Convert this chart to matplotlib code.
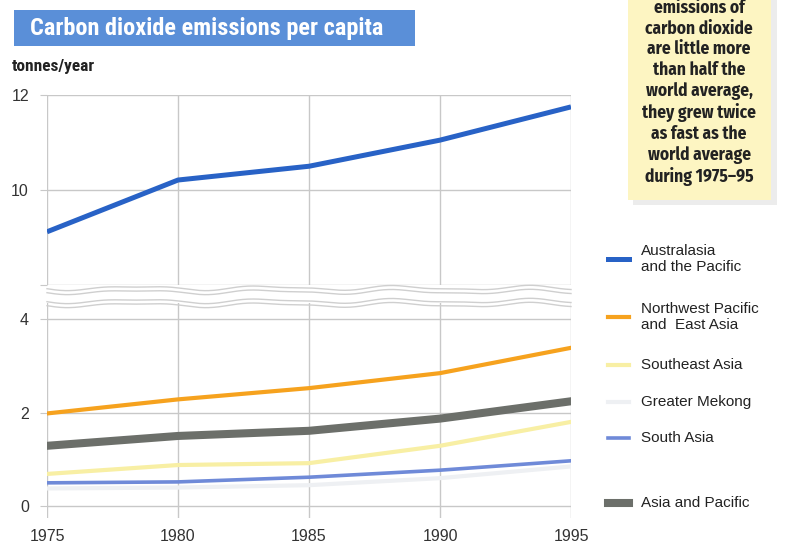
import numpy as np
import matplotlib
matplotlib.use("Agg")
import matplotlib.pyplot as plt
from matplotlib.patches import Rectangle
from matplotlib.lines import Line2D

plt.rcParams['font.family'] = ['Liberation Sans', 'DejaVu Sans']
NARROW = ['Roboto Condensed', 'Archivo Narrow', 'Liberation Sans', 'DejaVu Sans']
NOTE_FONT = ['Fira Sans Condensed', 'Roboto Condensed', 'Liberation Sans', 'DejaVu Sans']

years = [1975, 1980, 1985, 1990, 1995]
australasia = [9.12, 10.21, 10.50, 11.05, 11.75]
nw_pacific = [1.98, 2.28, 2.52, 2.84, 3.38]
southeast_asia = [0.69, 0.88, 0.92, 1.29, 1.80]
greater_mekong = [0.38, 0.40, 0.45, 0.60, 0.85]
south_asia = [0.50, 0.52, 0.62, 0.77, 0.97]
asia_pacific = [1.29, 1.50, 1.61, 1.87, 2.24]

series_names = ["Australasia\nand the Pacific", "Northwest Pacific\nand  East Asia",
                "Southeast Asia", "Greater Mekong", "South Asia", "Asia and Pacific"]
upper_ticks = [10, 12]
lower_ticks = [0, 2, 4]

c_aus = "#2862c6"
c_nw = "#f6a21e"
c_se = "#f8efa4"
c_gm = "#eef0f3"
c_sa = "#6f8ad8"
c_ap = "#6c6f6a"
grid_c = "#c8c8c8"
tick_c = "#333333"

W, H = 789, 548
fig = plt.figure(figsize=(W / 100, H / 100), dpi=100)
fig.patch.set_facecolor("white")

def fx(px):
    return px / W

def fy(py):
    return 1 - py / H

left, right = 47, 571
ax_top = fig.add_axes([fx(left), fy(285), fx(right - left), fy(95) - fy(285)])
ax_bot = fig.add_axes([fx(left), fy(518), fx(right - left), fy(300) - fy(518)])

for ax in (ax_top, ax_bot):
    ax.set_xlim(1975, 1995)
    ax.patch.set_alpha(0)
    for s in ax.spines.values():
        s.set_visible(False)
    ax.set_xticks(years)
    ax.grid(True, color=grid_c, linewidth=1.0)
    ax.set_axisbelow(True)
    ax.tick_params(axis="y", length=5, color=grid_c, labelsize=11.5,
                   labelcolor=tick_c, pad=8)
    ax.tick_params(axis="x", length=0, labelsize=11.5, labelcolor=tick_c)

ax_top.set_ylim(8, 12)
ax_top.set_yticks([8] + upper_ticks)
ax_top.set_yticklabels([""] + [str(t) for t in upper_ticks])
ax_top.tick_params(axis="x", labelbottom=False)
ax_top.plot(years, australasia, color=c_aus, lw=3.6, solid_capstyle="butt", zorder=5)

ax_bot.set_ylim(-0.25, 4.4)
ax_bot.set_yticks(lower_ticks)
ax_bot.set_yticklabels([str(t) for t in lower_ticks])
ax_bot.set_xticklabels([str(y) for y in years])
ax_bot.tick_params(axis="x", pad=8)
ax_bot.plot(years, greater_mekong, color=c_gm, lw=3.0, zorder=3)
ax_bot.plot(years, south_asia, color=c_sa, lw=2.6, zorder=4)
ax_bot.plot(years, southeast_asia, color=c_se, lw=3.0, zorder=4)
ax_bot.plot(years, asia_pacific, color=c_ap, lw=5.8, zorder=5)
ax_bot.plot(years, nw_pacific, color=c_nw, lw=3.0, zorder=6)

# wavy break marks between the two panels: a white gap edged by two wavy bands
xw = np.linspace(1975, 1995, 400)
wave = 0.6 * np.sin((xw - 1975) / 5 * 2 * np.pi + 0.4) + 0.3 * np.sin((xw - 1975) * 2.3)
xx = [fx(left + (x - 1975) / 20 * (right - left)) for x in xw]
fig.add_artist(Rectangle((fx(left - 3), fy(303)), fx(right - left + 6), fy(290) - fy(303),
                         facecolor="white", edgecolor="none", zorder=2))
for y0 in (288, 292, 301, 305):
    yy = [fy(y0 + 3.0 * w) for w in wave]
    fig.add_artist(Line2D(xx, yy, color="#cfcfcf", lw=1.0, zorder=3))

# title banner
fig.add_artist(Rectangle((fx(14), fy(46)), fx(401), fy(10) - fy(46),
                         facecolor="#5a8fd8", edgecolor="none"))
fig.text(fx(30), fy(28), "Carbon dioxide emissions per capita", color="white",
         fontsize=17.5, fontweight="bold", family=NARROW, va="center", ha="left")
fig.text(fx(12), fy(67), "tonnes/year", color="#222222", fontsize=12.5,
         fontweight="bold", family=NARROW, va="center", ha="left")

# note box with a soft shadow
fig.add_artist(Rectangle((fx(633), fy(205)), fx(144), fy(-5) - fy(205),
                         facecolor="#e4e4e4", edgecolor="none", alpha=0.7))
fig.add_artist(Rectangle((fx(628), fy(200)), fx(143), fy(-5) - fy(200),
                         facecolor="#fdf5c2", edgecolor="none"))
note = ("emissions of\ncarbon dioxide\nare little more\nthan half the\nworld average,\n"
        "they grew twice\nas fast as the\nworld average\nduring 1975\u201395")
fig.text(fx(699), fy(-1), note, color="#222222", fontsize=12.5, fontweight="bold",
         family=NOTE_FONT, ha="center", va="top", linespacing=1.22)

# legend
legend_rows = [
    (series_names[0], 259, c_aus, 3.6),
    (series_names[1], 317, c_nw, 3.0),
    (series_names[2], 365, c_se, 3.0),
    (series_names[3], 402, c_gm, 3.0),
    (series_names[4], 438, c_sa, 2.6),
    (series_names[5], 503, c_ap, 5.8),
]
for label, py, col, lw in legend_rows:
    fig.add_artist(Line2D([fx(608), fx(629)], [fy(py), fy(py)], color=col, lw=lw))
    fig.text(fx(641), fy(py), label, color="#222222", fontsize=11,
             va="center", ha="left", linespacing=1.15)

fig.savefig("out.png", dpi=100, facecolor="white")
